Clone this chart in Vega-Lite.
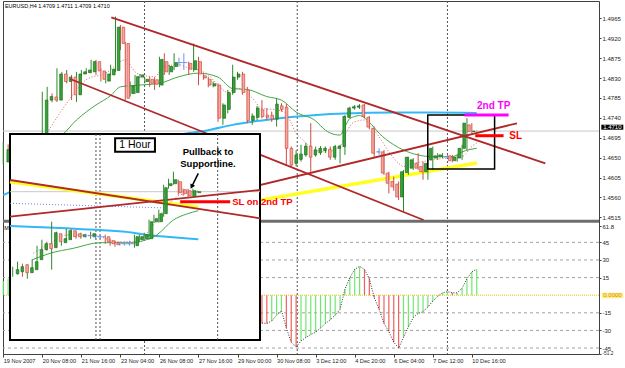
{
"$schema":"https://vega.github.io/schema/vega-lite/v6.json",
"width":596,"height":353,
"padding":{"left":3,"top":1,"right":26,"bottom":14},
"autosize":{"type":"none"},
"background":"white",
"config":{"view":{"stroke":"#404040","strokeWidth":1},"font":"Liberation Sans","axis":{"labelFont":"Liberation Sans"}},
"datasets":{
"candles":[
{"i":0,"o":1.4640,"h":1.4685,"l":1.4635,"c":1.4668},
{"i":1,"o":1.4675,"h":1.4680,"l":1.4650,"c":1.4656},
{"i":2,"o":1.4656,"h":1.4668,"l":1.4630,"c":1.4640},
{"i":3,"o":1.4640,"h":1.4662,"l":1.4628,"c":1.4655},
{"i":4,"o":1.4655,"h":1.4672,"l":1.4645,"c":1.4668},
{"i":5,"o":1.4668,"h":1.4675,"l":1.4650,"c":1.4658},
{"i":6,"o":1.4658,"h":1.4690,"l":1.4652,"c":1.4684},
{"i":7,"o":1.4684,"h":1.4695,"l":1.4670,"c":1.4690},
{"i":8,"o":1.4690,"h":1.4799,"l":1.4685,"c":1.4780},
{"i":9,"o":1.4780,"h":1.4810,"l":1.4773,"c":1.4788},
{"i":10,"o":1.4787,"h":1.4795,"l":1.4775,"c":1.4780},
{"i":11,"o":1.4780,"h":1.4852,"l":1.4776,"c":1.4839},
{"i":12,"o":1.4839,"h":1.4844,"l":1.4809,"c":1.4822},
{"i":13,"o":1.4822,"h":1.4848,"l":1.4818,"c":1.4832},
{"i":14,"o":1.4832,"h":1.4837,"l":1.4780,"c":1.4792},
{"i":15,"o":1.4792,"h":1.4844,"l":1.4776,"c":1.4839},
{"i":16,"o":1.4839,"h":1.4848,"l":1.4835,"c":1.4844},
{"i":17,"o":1.4842,"h":1.4852,"l":1.4839,"c":1.4848},
{"i":18,"o":1.4844,"h":1.4871,"l":1.4841,"c":1.4867},
{"i":19,"o":1.4867,"h":1.4871,"l":1.4837,"c":1.4846},
{"i":20,"o":1.4846,"h":1.4852,"l":1.4822,"c":1.4827},
{"i":21,"o":1.4823,"h":1.4844,"l":1.4818,"c":1.4839},
{"i":22,"o":1.4837,"h":1.4860,"l":1.4835,"c":1.4850},
{"i":23,"o":1.4847,"h":1.4969,"l":1.4844,"c":1.4945},
{"i":24,"o":1.4945,"h":1.4950,"l":1.4893,"c":1.4908},
{"i":25,"o":1.4908,"h":1.4912,"l":1.4780,"c":1.4784},
{"i":26,"o":1.4795,"h":1.4822,"l":1.4788,"c":1.4812},
{"i":27,"o":1.4797,"h":1.4837,"l":1.4794,"c":1.4833},
{"i":28,"o":1.4832,"h":1.4839,"l":1.4830,"c":1.4837},
{"i":29,"o":1.4822,"h":1.4830,"l":1.4818,"c":1.4827},
{"i":30,"o":1.4827,"h":1.4833,"l":1.4810,"c":1.4818},
{"i":31,"o":1.4826,"h":1.4832,"l":1.4803,"c":1.4816},
{"i":32,"o":1.4814,"h":1.4878,"l":1.4809,"c":1.4872},
{"i":33,"o":1.4867,"h":1.4886,"l":1.4837,"c":1.4844},
{"i":34,"o":1.4844,"h":1.4860,"l":1.4837,"c":1.4856},
{"i":35,"o":1.4856,"h":1.4886,"l":1.4848,"c":1.4865},
{"i":36,"o":1.4865,"h":1.4876,"l":1.4856,"c":1.4865},
{"i":37,"o":1.4865,"h":1.4886,"l":1.4848,"c":1.4865},
{"i":38,"o":1.4863,"h":1.4867,"l":1.4837,"c":1.4850},
{"i":39,"o":1.4849,"h":1.4908,"l":1.4844,"c":1.4869},
{"i":40,"o":1.4867,"h":1.4878,"l":1.4814,"c":1.4839},
{"i":41,"o":1.4835,"h":1.4841,"l":1.4826,"c":1.4830},
{"i":42,"o":1.4827,"h":1.4833,"l":1.4809,"c":1.4814},
{"i":43,"o":1.4812,"h":1.4822,"l":1.4809,"c":1.4817},
{"i":44,"o":1.4814,"h":1.4818,"l":1.4731,"c":1.4739},
{"i":45,"o":1.4739,"h":1.4773,"l":1.4724,"c":1.4769},
{"i":46,"o":1.4759,"h":1.4803,"l":1.4750,"c":1.4797},
{"i":47,"o":1.4797,"h":1.4860,"l":1.4792,"c":1.4832},
{"i":48,"o":1.4832,"h":1.4844,"l":1.4826,"c":1.4839},
{"i":49,"o":1.4839,"h":1.4844,"l":1.4792,"c":1.4797},
{"i":50,"o":1.4803,"h":1.4810,"l":1.4728,"c":1.4734},
{"i":51,"o":1.4734,"h":1.4750,"l":1.4724,"c":1.4744},
{"i":52,"o":1.4741,"h":1.4767,"l":1.4735,"c":1.4762},
{"i":53,"o":1.4758,"h":1.4780,"l":1.4739,"c":1.4743},
{"i":54,"o":1.4746,"h":1.4762,"l":1.4735,"c":1.4741},
{"i":55,"o":1.4746,"h":1.4754,"l":1.4731,"c":1.4737},
{"i":56,"o":1.4737,"h":1.4784,"l":1.4720,"c":1.4771},
{"i":57,"o":1.4767,"h":1.4773,"l":1.4754,"c":1.4759},
{"i":58,"o":1.4764,"h":1.4771,"l":1.4633,"c":1.4671},
{"i":59,"o":1.4671,"h":1.4675,"l":1.4630,"c":1.4633},
{"i":60,"o":1.4637,"h":1.4667,"l":1.4630,"c":1.4656},
{"i":61,"o":1.4646,"h":1.4679,"l":1.4641,"c":1.4658},
{"i":62,"o":1.4656,"h":1.4683,"l":1.4652,"c":1.4676},
{"i":63,"o":1.4676,"h":1.4728,"l":1.4618,"c":1.4651},
{"i":64,"o":1.4656,"h":1.4675,"l":1.4652,"c":1.4667},
{"i":65,"o":1.4661,"h":1.4676,"l":1.4656,"c":1.4671},
{"i":66,"o":1.4666,"h":1.4675,"l":1.4660,"c":1.4671},
{"i":67,"o":1.4669,"h":1.4675,"l":1.4645,"c":1.4651},
{"i":68,"o":1.4651,"h":1.4679,"l":1.4645,"c":1.4675},
{"i":69,"o":1.4671,"h":1.4679,"l":1.4637,"c":1.4676},
{"i":70,"o":1.4675,"h":1.4746,"l":1.4656,"c":1.4743},
{"i":71,"o":1.4741,"h":1.4765,"l":1.4739,"c":1.4762},
{"i":72,"o":1.4762,"h":1.4769,"l":1.4758,"c":1.4765},
{"i":73,"o":1.4764,"h":1.4771,"l":1.4760,"c":1.4767},
{"i":74,"o":1.4769,"h":1.4771,"l":1.4739,"c":1.4743},
{"i":75,"o":1.4741,"h":1.4744,"l":1.4714,"c":1.4719},
{"i":76,"o":1.4716,"h":1.4720,"l":1.4652,"c":1.4660},
{"i":77,"o":1.4663,"h":1.4671,"l":1.4656,"c":1.4663},
{"i":78,"o":1.4663,"h":1.4667,"l":1.4611,"c":1.4615},
{"i":79,"o":1.4615,"h":1.4618,"l":1.4569,"c":1.4592},
{"i":80,"o":1.4596,"h":1.4607,"l":1.4575,"c":1.4584},
{"i":81,"o":1.4590,"h":1.4596,"l":1.4554,"c":1.4561},
{"i":82,"o":1.4561,"h":1.4622,"l":1.4528,"c":1.4618},
{"i":83,"o":1.4616,"h":1.4652,"l":1.4611,"c":1.4651},
{"i":84,"o":1.4626,"h":1.4649,"l":1.4622,"c":1.4645},
{"i":85,"o":1.4637,"h":1.4660,"l":1.4622,"c":1.4626},
{"i":86,"o":1.4630,"h":1.4641,"l":1.4600,"c":1.4618},
{"i":87,"o":1.4618,"h":1.4645,"l":1.4600,"c":1.4637},
{"i":88,"o":1.4645,"h":1.4675,"l":1.4622,"c":1.4671},
{"i":89,"o":1.4649,"h":1.4660,"l":1.4645,"c":1.4654},
{"i":90,"o":1.4652,"h":1.4660,"l":1.4649,"c":1.4656},
{"i":91,"o":1.4652,"h":1.4656,"l":1.4649,"c":1.4652},
{"i":92,"o":1.4654,"h":1.4656,"l":1.4639,"c":1.4643},
{"i":93,"o":1.4643,"h":1.4656,"l":1.4641,"c":1.4651},
{"i":94,"o":1.4649,"h":1.4679,"l":1.4645,"c":1.4671},
{"i":95,"o":1.4671,"h":1.4739,"l":1.4667,"c":1.4728},
{"i":96,"o":1.4724,"h":1.4728,"l":1.4705,"c":1.4709},
{"i":97,"o":1.4709,"h":1.4711,"l":1.4709,"c":1.4710}
],
"ma":[
{"k":"s","i":10,"p":1.4690},{"k":"s","i":12,"p":1.4701},{"k":"s","i":15,"p":1.4735},{"k":"s","i":19,"p":1.4769},{"k":"s","i":22,"p":1.4790},{"k":"s","i":24,"p":1.4810},{"k":"s","i":28,"p":1.4814},{"k":"s","i":32,"p":1.4818},{"k":"s","i":36,"p":1.4833},{"k":"s","i":40,"p":1.4841},{"k":"s","i":44,"p":1.4832},{"k":"s","i":47,"p":1.4806},{"k":"s","i":50,"p":1.4804},{"k":"s","i":54,"p":1.4788},{"k":"s","i":57,"p":1.4780},{"k":"s","i":60,"p":1.4753},{"k":"s","i":64,"p":1.4733},{"k":"s","i":66,"p":1.4712},{"k":"s","i":68,"p":1.4702},{"k":"s","i":69,"p":1.4701},{"k":"s","i":70,"p":1.4720},{"k":"s","i":71,"p":1.4738},{"k":"s","i":73,"p":1.4745},{"k":"s","i":75,"p":1.4730},{"k":"s","i":77,"p":1.4705},{"k":"s","i":80,"p":1.4679},{"k":"s","i":82,"p":1.4667},{"k":"s","i":85,"p":1.4656},{"k":"s","i":88,"p":1.4652},{"k":"s","i":92,"p":1.4652},{"k":"s","i":94,"p":1.4663},{"k":"s","i":97,"p":1.4671},
{"k":"f","i":9,"p":1.4706},{"k":"f","i":13,"p":1.4773},{"k":"f","i":17,"p":1.4826},{"k":"f","i":21,"p":1.4841},{"k":"f","i":25,"p":1.4871},{"k":"f","i":27,"p":1.4844},{"k":"f","i":29,"p":1.4835},{"k":"f","i":31,"p":1.4833},{"k":"f","i":33,"p":1.4856},{"k":"f","i":36,"p":1.4860},{"k":"f","i":38,"p":1.4852},{"k":"f","i":40,"p":1.4848},{"k":"f","i":42,"p":1.4837},{"k":"f","i":44,"p":1.4814},{"k":"f","i":46,"p":1.4798},{"k":"f","i":48,"p":1.4807},{"k":"f","i":51,"p":1.4785},{"k":"f","i":53,"p":1.4761},{"k":"f","i":56,"p":1.4758},{"k":"f","i":58,"p":1.4750},{"k":"f","i":59,"p":1.4728},{"k":"f","i":60,"p":1.4705},{"k":"f","i":61,"p":1.4694},{"k":"f","i":64,"p":1.4667},{"k":"f","i":66,"p":1.4663},{"k":"f","i":69,"p":1.4675},{"k":"f","i":70,"p":1.4701},{"k":"f","i":72,"p":1.4731},{"k":"f","i":74,"p":1.4735},{"k":"f","i":75,"p":1.4724},{"k":"f","i":77,"p":1.4697},{"k":"f","i":79,"p":1.4663},{"k":"f","i":81,"p":1.4637},{"k":"f","i":82,"p":1.4630},{"k":"f","i":84,"p":1.4637},{"k":"f","i":86,"p":1.4641},{"k":"f","i":88,"p":1.4645},{"k":"f","i":91,"p":1.4649},{"k":"f","i":94,"p":1.4652},{"k":"f","i":96,"p":1.4675},{"k":"f","i":97,"p":1.4683},
{"k":"c","i":0,"p":1.4565},{"k":"c","i":10,"p":1.4615},{"k":"c","i":20,"p":1.4655},{"k":"c","i":28,"p":1.4682},{"k":"c","i":36,"p":1.4702},{"k":"c","i":42,"p":1.4712},{"k":"c","i":47,"p":1.4724},{"k":"c","i":53,"p":1.4734},{"k":"c","i":59,"p":1.4742},{"k":"c","i":70,"p":1.4750},{"k":"c","i":80,"p":1.4752},{"k":"c","i":88,"p":1.4752},{"k":"c","i":97,"p":1.4751}
],
"seg":[
{"k":"t","i":22.13,"p":1.49673,"i2":111.05,"p2":1.46371},
{"k":"t","i":13.73,"p":1.48278,"i2":86.11,"p2":1.45089},
{"k":"t","i":48.56,"p":1.45772,"i2":105.24,"p2":1.47276},
{"k":"y","i":48.56,"p":1.45462,"i2":97.05,"p2":1.46378},
{"k":"m","i":94.51,"p":1.47463,"i2":103.53,"p2":1.47463},
{"k":"s","i":96.70,"p":1.46995,"i2":102.50,"p2":1.46995}
],
"box":[{"i":86.97,"i2":100.66,"p":1.46242,"p2":1.47463}],
"sep":[{"i":28.95},{"i":60.23},{"i":91.0}],
"bid":[{"p":1.4710}],
"divider":[{"p":1.4506}],
"mtxt":[
{"k":"title","i":0.35,"p":1.49928,"t":"EURUSD,H4  1.4709 1.4711 1.4709 1.4710"},
{"k":"tp","i":97.05,"p":1.47667,"t":"2nd TP"},
{"k":"sl","i":103.67,"p":1.46995,"t":"SL"}
],
"tag":[{"i":122.53,"i2":127.03,"p":1.47131,"p2":1.47244,"ic":124.78,"pc":1.47188,"t":"1.4710"}],
"osc":[
{"i":0,"v":12,"t":"u"},{"i":1,"v":14,"t":"u"},
{"i":53,"v":-23.8,"t":"d"},{"i":54,"v":-24,"t":"d"},{"i":55,"v":-22,"t":"u"},{"i":56,"v":-17,"t":"u"},{"i":57,"v":-13,"t":"u"},{"i":58,"v":-28,"t":"d"},{"i":59,"v":-40,"t":"d"},{"i":60,"v":-44,"t":"d"},{"i":61,"v":-39,"t":"u"},{"i":62,"v":-36,"t":"u"},{"i":63,"v":-33.5,"t":"u"},{"i":64,"v":-31.5,"t":"u"},{"i":65,"v":-28,"t":"u"},{"i":66,"v":-24,"t":"u"},{"i":67,"v":-21,"t":"u"},{"i":68,"v":-17,"t":"u"},{"i":69,"v":-12,"t":"u"},{"i":70,"v":5,"t":"u"},{"i":71,"v":15,"t":"u"},{"i":72,"v":22,"t":"u"},{"i":73,"v":24.5,"t":"u"},{"i":74,"v":22,"t":"d"},{"i":75,"v":14,"t":"d"},{"i":76,"v":-2,"t":"d"},{"i":77,"v":-12,"t":"d"},{"i":78,"v":-24,"t":"d"},{"i":79,"v":-31,"t":"d"},{"i":80,"v":-40,"t":"d"},{"i":81,"v":-45,"t":"d"},{"i":82,"v":-36,"t":"u"},{"i":83,"v":-27,"t":"u"},{"i":84,"v":-19,"t":"u"},{"i":85,"v":-15.5,"t":"u"},{"i":86,"v":-14,"t":"u"},{"i":87,"v":-10,"t":"u"},{"i":88,"v":-5,"t":"u"},{"i":89,"v":-1,"t":"u"},{"i":90,"v":2,"t":"u"},{"i":91,"v":3,"t":"u"},{"i":92,"v":2,"t":"d"},{"i":93,"v":2,"t":"u"},{"i":94,"v":6,"t":"u"},{"i":95,"v":14,"t":"u"},{"i":96,"v":20,"t":"u"},{"i":97,"v":22,"t":"u"}
],
"ogrid":[{"v":45},{"v":30},{"v":15},{"v":-15},{"v":-30},{"v":-45}],
"ozero":[{"v":0}],
"otag":[{"i":122.61,"i2":127.03,"v":-2.64,"v2":2.13,"ic":124.82,"vc":-0.25,"t":"0.0000"}],
"olbl":[{"i":0.2,"v":57.6,"t":"M"}],
"ibox":[{"h":-0.554,"h2":50.78,"q":1.45617,"q2":1.47677}],
"ivl":[{"h":17.10,"q":1.45617,"q2":1.47677},{"h":17.93,"q":1.45617,"q2":1.47677},{"h":42.09,"q":1.45617,"q2":1.47677}],
"iseg":[
{"k":"g","h":-0.554,"q":1.4710,"h2":50.78,"q2":1.4710},
{"k":"b","h":-0.554,"q":1.46984,"h2":31.62,"q2":1.46937},
{"k":"y","h":-0.554,"q":1.47200,"h2":38.11,"q2":1.46944},
{"k":"r","h":-0.554,"q":1.47217,"h2":50.78,"q2":1.46834},
{"k":"r","h":-0.554,"q":1.46850,"h2":50.78,"q2":1.47117},
{"k":"s","h":34.39,"q":1.47000,"h2":44.66,"q2":1.47000},
{"k":"a","h":38.11,"q":1.47284,"h2":36.76,"q2":1.47150}
],
"iline":[
{"k":"c","h":-0.554,"q":1.46757},{"k":"c","h":11.09,"q":1.46734},{"k":"c","h":17.93,"q":1.46717},{"k":"c","h":24.76,"q":1.4669},{"k":"c","h":27.52,"q":1.46667},{"k":"c","h":31.62,"q":1.4665},{"k":"c","h":38.11,"q":1.46624},
{"k":"s","h":3.90,"q":1.46417},{"k":"s","h":7.66,"q":1.46484},{"k":"s","h":12.45,"q":1.46534},{"k":"s","h":17.93,"q":1.4659},{"k":"s","h":24.76,"q":1.4659},{"k":"s","h":26.82,"q":1.4661},{"k":"s","h":29.57,"q":1.46667},{"k":"s","h":32.98,"q":1.46817},{"k":"s","h":35.73,"q":1.46877},{"k":"s","h":38.11,"q":1.4691},
{"k":"f","h":4.23,"q":1.46484},{"k":"f","h":7.66,"q":1.46584},{"k":"f","h":11.09,"q":1.46667},{"k":"f","h":14.5,"q":1.46667},{"k":"f","h":17.93,"q":1.4665},{"k":"f","h":21.36,"q":1.466},{"k":"f","h":24.76,"q":1.466},{"k":"f","h":27.52,"q":1.46684},{"k":"f","h":29.57,"q":1.46817},{"k":"f","h":31.62,"q":1.4695},{"k":"f","h":34.35,"q":1.47067},{"k":"f","h":38.11,"q":1.471}
],
"icand":[
{"h":0,"o":1.4628,"hi":1.4635,"l":1.4625,"c":1.4632},
{"h":1,"o":1.4630,"hi":1.4640,"l":1.4627,"c":1.4635},
{"h":2,"o":1.4637,"hi":1.4638,"l":1.4625,"c":1.4629},
{"h":3,"o":1.4629,"hi":1.4637,"l":1.4623,"c":1.4634},
{"h":4,"o":1.4632,"hi":1.4642,"l":1.4630,"c":1.4640},
{"h":5,"o":1.4642,"hi":1.4656,"l":1.4640,"c":1.4652},
{"h":6,"o":1.4652,"hi":1.4662,"l":1.4648,"c":1.4658},
{"h":7,"o":1.4658,"hi":1.4660,"l":1.4651,"c":1.4653},
{"h":8,"o":1.4654,"hi":1.4680,"l":1.4632,"c":1.4669},
{"h":9,"o":1.4668,"hi":1.4670,"l":1.4655,"c":1.4660},
{"h":10,"o":1.4659,"hi":1.4667,"l":1.4656,"c":1.4663},
{"h":11,"o":1.4662,"hi":1.4673,"l":1.4660,"c":1.4671},
{"h":12,"o":1.4671,"hi":1.4673,"l":1.4662,"c":1.4665},
{"h":13,"o":1.4668,"hi":1.4670,"l":1.4663,"c":1.4665},
{"h":14,"o":1.4665,"hi":1.4669,"l":1.4663,"c":1.4667},
{"h":15,"o":1.4666,"hi":1.4668,"l":1.4664,"c":1.4666},
{"h":16,"o":1.4665,"hi":1.4670,"l":1.4663,"c":1.4668},
{"h":17,"o":1.4665,"hi":1.4668,"l":1.4662,"c":1.4665},
{"h":18,"o":1.4665,"hi":1.4667,"l":1.4663,"c":1.4665},
{"h":19,"o":1.4665,"hi":1.4667,"l":1.4658,"c":1.4660},
{"h":20,"o":1.4661,"hi":1.4663,"l":1.4656,"c":1.4658},
{"h":21,"o":1.4659,"hi":1.4661,"l":1.4655,"c":1.4657},
{"h":22,"o":1.4658,"hi":1.4660,"l":1.4656,"c":1.4658},
{"h":23,"o":1.4658,"hi":1.4660,"l":1.4656,"c":1.4658},
{"h":24,"o":1.4658,"hi":1.4661,"l":1.4656,"c":1.4658},
{"h":25,"o":1.4656,"hi":1.4667,"l":1.4654,"c":1.4665},
{"h":26,"o":1.4662,"hi":1.4667,"l":1.4660,"c":1.4665},
{"h":27,"o":1.4663,"hi":1.4669,"l":1.4661,"c":1.4667},
{"h":28,"o":1.4663,"hi":1.4682,"l":1.4662,"c":1.4680},
{"h":29,"o":1.4680,"hi":1.4687,"l":1.4679,"c":1.4683},
{"h":30,"o":1.4680,"hi":1.4692,"l":1.4679,"c":1.4688},
{"h":31,"o":1.4688,"hi":1.4717,"l":1.4685,"c":1.4714},
{"h":32,"o":1.4716,"hi":1.4723,"l":1.4713,"c":1.4718},
{"h":33,"o":1.4718,"hi":1.4730,"l":1.4717,"c":1.4722},
{"h":34,"o":1.4720,"hi":1.4722,"l":1.4707,"c":1.4709},
{"h":35,"o":1.4712,"hi":1.4713,"l":1.4706,"c":1.4708},
{"h":36,"o":1.4711,"hi":1.4713,"l":1.4704,"c":1.4706},
{"h":37,"o":1.4706,"hi":1.4713,"l":1.4704,"c":1.4711},
{"h":38,"o":1.4709,"hi":1.4711,"l":1.4709,"c":1.4710}
],
"itxt":[
{"k":"sl","h":45.06,"q":1.4700,"t":"SL on 2nd TP"},
{"k":"pb","h":40.10,"q":1.47494,"t":"Pullback to"},
{"k":"pb","h":40.10,"q":1.47374,"t":"Supportline."}
],
"ihour":[{"h":21.03,"h2":29.21,"q":1.47500,"q2":1.47634,"hc":25.12,"qc":1.47567,"t":"1 Hour"}]
},
"layer":[
{"data":{"name":"sep"},"mark":{"type":"rule","color":"#505050","strokeDash":[2,2],"strokeWidth":1},
 "encoding":{"x":{"field":"i","type":"quantitative","scale":{"domain":[-0.05,122.05],"nice":false,"zero":false},"axis":null}}},
{"data":{"name":"bid"},"mark":{"type":"rule","color":"#C8C8C8","strokeWidth":1},
 "encoding":{"y":{"field":"p","type":"quantitative","scale":{"domain":[1.420586,1.500414],"nice":false,"zero":false},"axis":null}}},
{"data":{"name":"divider"},"mark":{"type":"rule","color":"#6E6E6E","strokeWidth":3},
 "encoding":{"y":{"field":"p","type":"quantitative","scale":{"domain":[1.420586,1.500414],"nice":false,"zero":false},"axis":null}}},
{"data":{"name":"seg"},"transform":[{"filter":"datum.k == 'y'"}],"mark":{"type":"rule","color":"#FFFF22","strokeWidth":3.5},
 "encoding":{"x":{"field":"i","type":"quantitative","scale":{"domain":[-0.05,122.05],"nice":false,"zero":false},"axis":null},"x2":{"field":"i2"},
  "y":{"field":"p","type":"quantitative","scale":{"domain":[1.420586,1.500414],"nice":false,"zero":false},"axis":null},"y2":{"field":"p2"}}},
{"data":{"name":"ma"},"transform":[{"filter":"datum.k == 'c'"}],"mark":{"type":"line","color":"#33B8F5","strokeWidth":2,"interpolate":"monotone"},
 "encoding":{"x":{"field":"i","type":"quantitative","scale":{"domain":[-0.05,122.05],"nice":false,"zero":false},"axis":null},
  "y":{"field":"p","type":"quantitative","scale":{"domain":[1.420586,1.500414],"nice":false,"zero":false},"axis":null}}},
{"data":{"name":"ma"},"transform":[{"filter":"datum.k == 's'"}],"mark":{"type":"line","color":"#44A844","strokeWidth":1,"interpolate":"monotone"},
 "encoding":{"x":{"field":"i","type":"quantitative","scale":{"domain":[-0.05,122.05],"nice":false,"zero":false},"axis":null},
  "y":{"field":"p","type":"quantitative","scale":{"domain":[1.420586,1.500414],"nice":false,"zero":false},"axis":null}}},
{"data":{"name":"ma"},"transform":[{"filter":"datum.k == 'f'"}],"mark":{"type":"line","color":"#D0685A","strokeWidth":1,"strokeDash":[1,2],"interpolate":"monotone"},
 "encoding":{"x":{"field":"i","type":"quantitative","scale":{"domain":[-0.05,122.05],"nice":false,"zero":false},"axis":null},
  "y":{"field":"p","type":"quantitative","scale":{"domain":[1.420586,1.500414],"nice":false,"zero":false},"axis":null}}},
{"data":{"name":"candles"},"mark":{"type":"rule","strokeWidth":1},
 "encoding":{"x":{"field":"i","type":"quantitative","scale":{"domain":[-0.05,122.05],"nice":false,"zero":false},
   "axis":{"orient":"bottom","values":[0,8,16,24,32,40,48,56,64,72,80,88,96],"labelExpr":"['19 Nov 2007','20 Nov 08:00','21 Nov 16:00','23 Nov 04:00','26 Nov 08:00','27 Nov 16:00','29 Nov 00:00','30 Nov 08:00','3 Dec 12:00','4 Dec 20:00','6 Dec 04:00','7 Dec 12:00','10 Dec 16:00'][round(datum.value/8)]","title":null,"grid":false,"domain":false,"tickSize":3,"tickColor":"#404040","labelAlign":"left","labelPadding":1.5,"labelFontSize":5.6,"labelFlush":false,"labelOverlap":false,"labelColor":"#222222"}},
  "y":{"field":"l","type":"quantitative","scale":{"domain":[1.420586,1.500414],"nice":false,"zero":false},
   "axis":{"orient":"right","values":[1.4965,1.4920,1.4875,1.4830,1.4785,1.4740,1.4695,1.4650,1.4605,1.4560,1.4515],"format":".4f","title":null,"grid":false,"domain":false,"tickSize":2,"tickColor":"#404040","labelPadding":1,"labelFontSize":6,"labelOverlap":false,"labelColor":"#222222"}},
  "y2":{"field":"h"},
  "color":{"condition":[{"test":"datum.c > datum.o","value":"#2A8A2A"},{"test":"datum.c < datum.o","value":"#D04A40"}],"value":"#7090F0"}}},
{"data":{"name":"candles"},"mark":{"type":"bar","size":2.6,"strokeWidth":0.7},
 "encoding":{"x":{"field":"i","type":"quantitative","scale":{"domain":[-0.05,122.05],"nice":false,"zero":false},"axis":null},
  "y":{"field":"o","type":"quantitative","scale":{"domain":[1.420586,1.500414],"nice":false,"zero":false},"axis":null},"y2":{"field":"c"},
  "fill":{"condition":[{"test":"datum.c > datum.o","value":"#35A535"},{"test":"datum.c < datum.o","value":"#F5A8A0"}],"value":"#7090F0"},
  "stroke":{"condition":[{"test":"datum.c > datum.o","value":"#1E6B1E"},{"test":"datum.c < datum.o","value":"#D04A40"}],"value":"#7090F0"}}},
{"data":{"name":"candles"},"transform":[{"filter":"datum.o == datum.c"}],"mark":{"type":"tick","orient":"horizontal","size":3.5,"thickness":1,"color":"#7090F0"},
 "encoding":{"x":{"field":"i","type":"quantitative","scale":{"domain":[-0.05,122.05],"nice":false,"zero":false},"axis":null},
  "y":{"field":"o","type":"quantitative","scale":{"domain":[1.420586,1.500414],"nice":false,"zero":false},"axis":null}}},
{"data":{"name":"seg"},"transform":[{"filter":"datum.k == 't'"}],"mark":{"type":"rule","color":"#B02828","strokeWidth":1.8},
 "encoding":{"x":{"field":"i","type":"quantitative","scale":{"domain":[-0.05,122.05],"nice":false,"zero":false},"axis":null},"x2":{"field":"i2"},
  "y":{"field":"p","type":"quantitative","scale":{"domain":[1.420586,1.500414],"nice":false,"zero":false},"axis":null},"y2":{"field":"p2"}}},
{"data":{"name":"box"},"mark":{"type":"rect","fill":"transparent","stroke":"#000000","strokeWidth":1.5},
 "encoding":{"x":{"field":"i","type":"quantitative","scale":{"domain":[-0.05,122.05],"nice":false,"zero":false},"axis":null},"x2":{"field":"i2"},
  "y":{"field":"p","type":"quantitative","scale":{"domain":[1.420586,1.500414],"nice":false,"zero":false},"axis":null},"y2":{"field":"p2"}}},
{"data":{"name":"seg"},"transform":[{"filter":"datum.k == 'm'"}],"mark":{"type":"rule","color":"#FF00FF","strokeWidth":3},
 "encoding":{"x":{"field":"i","type":"quantitative","scale":{"domain":[-0.05,122.05],"nice":false,"zero":false},"axis":null},"x2":{"field":"i2"},
  "y":{"field":"p","type":"quantitative","scale":{"domain":[1.420586,1.500414],"nice":false,"zero":false},"axis":null},"y2":{"field":"p2"}}},
{"data":{"name":"seg"},"transform":[{"filter":"datum.k == 's'"}],"mark":{"type":"rule","color":"#FF0000","strokeWidth":3},
 "encoding":{"x":{"field":"i","type":"quantitative","scale":{"domain":[-0.05,122.05],"nice":false,"zero":false},"axis":null},"x2":{"field":"i2"},
  "y":{"field":"p","type":"quantitative","scale":{"domain":[1.420586,1.500414],"nice":false,"zero":false},"axis":null},"y2":{"field":"p2"}}},
{"data":{"name":"mtxt"},"transform":[{"filter":"datum.k == 'title'"}],"mark":{"type":"text","align":"left","baseline":"middle","fontSize":5.5,"color":"#000000"},
 "encoding":{"x":{"field":"i","type":"quantitative","scale":{"domain":[-0.05,122.05],"nice":false,"zero":false},"axis":null},
  "y":{"field":"p","type":"quantitative","scale":{"domain":[1.420586,1.500414],"nice":false,"zero":false},"axis":null},"text":{"field":"t"}}},
{"data":{"name":"mtxt"},"transform":[{"filter":"datum.k == 'tp'"}],"mark":{"type":"text","align":"left","baseline":"middle","fontSize":10,"fontWeight":"bold","color":"#FF00FF"},
 "encoding":{"x":{"field":"i","type":"quantitative","scale":{"domain":[-0.05,122.05],"nice":false,"zero":false},"axis":null},
  "y":{"field":"p","type":"quantitative","scale":{"domain":[1.420586,1.500414],"nice":false,"zero":false},"axis":null},"text":{"field":"t"}}},
{"data":{"name":"mtxt"},"transform":[{"filter":"datum.k == 'sl'"}],"mark":{"type":"text","align":"left","baseline":"middle","fontSize":10,"fontWeight":"bold","color":"#FF0000"},
 "encoding":{"x":{"field":"i","type":"quantitative","scale":{"domain":[-0.05,122.05],"nice":false,"zero":false},"axis":null},
  "y":{"field":"p","type":"quantitative","scale":{"domain":[1.420586,1.500414],"nice":false,"zero":false},"axis":null},"text":{"field":"t"}}},
{"data":{"name":"tag"},"mark":{"type":"rect","fill":"#000000"},
 "encoding":{"x":{"field":"i","type":"quantitative","scale":{"domain":[-0.05,122.05],"nice":false,"zero":false},"axis":null},"x2":{"field":"i2"},
  "y":{"field":"p","type":"quantitative","scale":{"domain":[1.420586,1.500414],"nice":false,"zero":false},"axis":null},"y2":{"field":"p2"}}},
{"data":{"name":"tag"},"mark":{"type":"text","align":"center","baseline":"middle","fontSize":6,"color":"#FFFFFF"},
 "encoding":{"x":{"field":"ic","type":"quantitative","scale":{"domain":[-0.05,122.05],"nice":false,"zero":false},"axis":null},
  "y":{"field":"pc","type":"quantitative","scale":{"domain":[1.420586,1.500414],"nice":false,"zero":false},"axis":null},"text":{"field":"t"}}},
{"data":{"name":"ogrid"},"mark":{"type":"rule","color":"#A0A0A0","strokeDash":[3,3],"strokeWidth":1},
 "encoding":{"y":{"field":"v","type":"quantitative","scale":{"domain":[-50.07,250.5],"nice":false,"zero":false},"axis":null}}},
{"data":{"name":"ozero"},"mark":{"type":"rule","color":"#F0C000","strokeDash":[1,1],"strokeWidth":1},
 "encoding":{"y":{"field":"v","type":"quantitative","scale":{"domain":[-50.07,250.5],"nice":false,"zero":false},"axis":null}}},
{"data":{"name":"osc"},"mark":{"type":"rule","strokeWidth":1.2},
 "encoding":{"x":{"field":"i","type":"quantitative","scale":{"domain":[-0.05,122.05],"nice":false,"zero":false},"axis":null},
  "y":{"field":"v","type":"quantitative","scale":{"domain":[-50.07,250.5],"nice":false,"zero":false},
   "axis":{"orient":"right","values":[58.9,45,30,15,-15,-30,-45,-50.0],"labelExpr":"datum.value > 50 ? '61.8' : (datum.value < -46 ? '-51.2' : '' + datum.value)","title":null,"grid":false,"domain":false,"tickSize":2,"tickColor":"#404040","labelPadding":1,"labelFontSize":{"condition":{"test":"datum.value < -46","value":4.8},"value":6},"labelOverlap":false,"labelColor":"#222222"}},
  "y2":{"datum":0},
  "color":{"condition":{"test":"datum.t == 'u'","value":"#6FE86F"},"value":"#F06060"}}},
{"data":{"name":"osc"},"transform":[{"filter":"datum.i >= 53"}],"mark":{"type":"line","color":"#333333","strokeWidth":1,"strokeDash":[1,1.5]},
 "encoding":{"x":{"field":"i","type":"quantitative","scale":{"domain":[-0.05,122.05],"nice":false,"zero":false},"axis":null},
  "y":{"field":"v","type":"quantitative","scale":{"domain":[-50.07,250.5],"nice":false,"zero":false},"axis":null}}},
{"data":{"name":"otag"},"mark":{"type":"rect","fill":"#FFEE88"},
 "encoding":{"x":{"field":"i","type":"quantitative","scale":{"domain":[-0.05,122.05],"nice":false,"zero":false},"axis":null},"x2":{"field":"i2"},
  "y":{"field":"v","type":"quantitative","scale":{"domain":[-50.07,250.5],"nice":false,"zero":false},"axis":null},"y2":{"field":"v2"}}},
{"data":{"name":"otag"},"mark":{"type":"text","align":"center","baseline":"middle","fontSize":6,"color":"#D08A00"},
 "encoding":{"x":{"field":"ic","type":"quantitative","scale":{"domain":[-0.05,122.05],"nice":false,"zero":false},"axis":null},
  "y":{"field":"vc","type":"quantitative","scale":{"domain":[-50.07,250.5],"nice":false,"zero":false},"axis":null},"text":{"field":"t"}}},
{"data":{"name":"olbl"},"mark":{"type":"text","align":"left","baseline":"middle","fontSize":5.5,"color":"#000000"},
 "encoding":{"x":{"field":"i","type":"quantitative","scale":{"domain":[-0.05,122.05],"nice":false,"zero":false},"axis":null},
  "y":{"field":"v","type":"quantitative","scale":{"domain":[-50.07,250.5],"nice":false,"zero":false},"axis":null},"text":{"field":"t"}}},
{"data":{"name":"ibox"},"mark":{"type":"rect","fill":"#FFFFFF","stroke":"#000000","strokeWidth":2},
 "encoding":{"x":{"field":"h","type":"quantitative","scale":{"domain":[-1.992,120.39],"nice":false,"zero":false},"axis":null},"x2":{"field":"h2"},
  "y":{"field":"q","type":"quantitative","scale":{"domain":[1.45477,1.49007],"nice":false,"zero":false},"axis":null},"y2":{"field":"q2"}}},
{"data":{"name":"ivl"},"mark":{"type":"rule","color":"#505050","strokeDash":[2,2],"strokeWidth":1},
 "encoding":{"x":{"field":"h","type":"quantitative","scale":{"domain":[-1.992,120.39],"nice":false,"zero":false},"axis":null},
  "y":{"field":"q","type":"quantitative","scale":{"domain":[1.45477,1.49007],"nice":false,"zero":false},"axis":null},"y2":{"field":"q2"}}},
{"data":{"name":"iseg"},"transform":[{"filter":"datum.k == 'g'"}],"mark":{"type":"rule","color":"#C8C8C8","strokeWidth":1},
 "encoding":{"x":{"field":"h","type":"quantitative","scale":{"domain":[-1.992,120.39],"nice":false,"zero":false},"axis":null},"x2":{"field":"h2"},
  "y":{"field":"q","type":"quantitative","scale":{"domain":[1.45477,1.49007],"nice":false,"zero":false},"axis":null},"y2":{"field":"q2"}}},
{"data":{"name":"iseg"},"transform":[{"filter":"datum.k == 'b'"}],"mark":{"type":"rule","color":"#6A86E8","strokeWidth":1,"strokeDash":[1,2]},
 "encoding":{"x":{"field":"h","type":"quantitative","scale":{"domain":[-1.992,120.39],"nice":false,"zero":false},"axis":null},"x2":{"field":"h2"},
  "y":{"field":"q","type":"quantitative","scale":{"domain":[1.45477,1.49007],"nice":false,"zero":false},"axis":null},"y2":{"field":"q2"}}},
{"data":{"name":"iseg"},"transform":[{"filter":"datum.k == 'y'"}],"mark":{"type":"rule","color":"#FFFF22","strokeWidth":3.5},
 "encoding":{"x":{"field":"h","type":"quantitative","scale":{"domain":[-1.992,120.39],"nice":false,"zero":false},"axis":null},"x2":{"field":"h2"},
  "y":{"field":"q","type":"quantitative","scale":{"domain":[1.45477,1.49007],"nice":false,"zero":false},"axis":null},"y2":{"field":"q2"}}},
{"data":{"name":"iseg"},"transform":[{"filter":"datum.k == 'r'"}],"mark":{"type":"rule","color":"#B02828","strokeWidth":1.8},
 "encoding":{"x":{"field":"h","type":"quantitative","scale":{"domain":[-1.992,120.39],"nice":false,"zero":false},"axis":null},"x2":{"field":"h2"},
  "y":{"field":"q","type":"quantitative","scale":{"domain":[1.45477,1.49007],"nice":false,"zero":false},"axis":null},"y2":{"field":"q2"}}},
{"data":{"name":"iline"},"transform":[{"filter":"datum.k == 'c'"}],"mark":{"type":"line","color":"#33B8F5","strokeWidth":2,"interpolate":"monotone"},
 "encoding":{"x":{"field":"h","type":"quantitative","scale":{"domain":[-1.992,120.39],"nice":false,"zero":false},"axis":null},
  "y":{"field":"q","type":"quantitative","scale":{"domain":[1.45477,1.49007],"nice":false,"zero":false},"axis":null}}},
{"data":{"name":"iline"},"transform":[{"filter":"datum.k == 's'"}],"mark":{"type":"line","color":"#44A844","strokeWidth":1,"interpolate":"monotone"},
 "encoding":{"x":{"field":"h","type":"quantitative","scale":{"domain":[-1.992,120.39],"nice":false,"zero":false},"axis":null},
  "y":{"field":"q","type":"quantitative","scale":{"domain":[1.45477,1.49007],"nice":false,"zero":false},"axis":null}}},
{"data":{"name":"iline"},"transform":[{"filter":"datum.k == 'f'"}],"mark":{"type":"line","color":"#D0685A","strokeWidth":1,"strokeDash":[1,2],"interpolate":"monotone"},
 "encoding":{"x":{"field":"h","type":"quantitative","scale":{"domain":[-1.992,120.39],"nice":false,"zero":false},"axis":null},
  "y":{"field":"q","type":"quantitative","scale":{"domain":[1.45477,1.49007],"nice":false,"zero":false},"axis":null}}},
{"data":{"name":"icand"},"mark":{"type":"rule","strokeWidth":1},
 "encoding":{"x":{"field":"h","type":"quantitative","scale":{"domain":[-1.992,120.39],"nice":false,"zero":false},"axis":null},
  "y":{"field":"l","type":"quantitative","scale":{"domain":[1.45477,1.49007],"nice":false,"zero":false},"axis":null},"y2":{"field":"hi"},
  "color":{"condition":[{"test":"datum.c > datum.o","value":"#2A8A2A"},{"test":"datum.c < datum.o","value":"#D04A40"}],"value":"#7090F0"}}},
{"data":{"name":"icand"},"mark":{"type":"bar","size":2.6,"strokeWidth":0.7},
 "encoding":{"x":{"field":"h","type":"quantitative","scale":{"domain":[-1.992,120.39],"nice":false,"zero":false},"axis":null},
  "y":{"field":"o","type":"quantitative","scale":{"domain":[1.45477,1.49007],"nice":false,"zero":false},"axis":null},"y2":{"field":"c"},
  "fill":{"condition":[{"test":"datum.c > datum.o","value":"#35A535"},{"test":"datum.c < datum.o","value":"#F5A8A0"}],"value":"#7090F0"},
  "stroke":{"condition":[{"test":"datum.c > datum.o","value":"#1E6B1E"},{"test":"datum.c < datum.o","value":"#D04A40"}],"value":"#7090F0"}}},
{"data":{"name":"icand"},"transform":[{"filter":"datum.o == datum.c"}],"mark":{"type":"tick","orient":"horizontal","size":3.5,"thickness":1,"color":"#7090F0"},
 "encoding":{"x":{"field":"h","type":"quantitative","scale":{"domain":[-1.992,120.39],"nice":false,"zero":false},"axis":null},
  "y":{"field":"o","type":"quantitative","scale":{"domain":[1.45477,1.49007],"nice":false,"zero":false},"axis":null}}},
{"data":{"name":"iseg"},"transform":[{"filter":"datum.k == 's'"}],"mark":{"type":"rule","color":"#FF0000","strokeWidth":3},
 "encoding":{"x":{"field":"h","type":"quantitative","scale":{"domain":[-1.992,120.39],"nice":false,"zero":false},"axis":null},"x2":{"field":"h2"},
  "y":{"field":"q","type":"quantitative","scale":{"domain":[1.45477,1.49007],"nice":false,"zero":false},"axis":null},"y2":{"field":"q2"}}},
{"data":{"name":"iseg"},"transform":[{"filter":"datum.k == 'a'"}],"mark":{"type":"rule","color":"#000000","strokeWidth":1.5},
 "encoding":{"x":{"field":"h","type":"quantitative","scale":{"domain":[-1.992,120.39],"nice":false,"zero":false},"axis":null},"x2":{"field":"h2"},
  "y":{"field":"q","type":"quantitative","scale":{"domain":[1.45477,1.49007],"nice":false,"zero":false},"axis":null},"y2":{"field":"q2"}}},
{"data":{"name":"iseg"},"transform":[{"filter":"datum.k == 'a'"}],"mark":{"type":"point","shape":"triangle-up","filled":true,"color":"#000000","size":28,"angle":206,"opacity":1},
 "encoding":{"x":{"field":"h2","type":"quantitative","scale":{"domain":[-1.992,120.39],"nice":false,"zero":false},"axis":null},
  "y":{"field":"q2","type":"quantitative","scale":{"domain":[1.45477,1.49007],"nice":false,"zero":false},"axis":null}}},
{"data":{"name":"itxt"},"transform":[{"filter":"datum.k == 'sl'"}],"mark":{"type":"text","align":"left","baseline":"middle","fontSize":9.5,"fontWeight":"bold","color":"#FF0000"},
 "encoding":{"x":{"field":"h","type":"quantitative","scale":{"domain":[-1.992,120.39],"nice":false,"zero":false},"axis":null},
  "y":{"field":"q","type":"quantitative","scale":{"domain":[1.45477,1.49007],"nice":false,"zero":false},"axis":null},"text":{"field":"t"}}},
{"data":{"name":"itxt"},"transform":[{"filter":"datum.k == 'pb'"}],"mark":{"type":"text","align":"center","baseline":"middle","fontSize":9.5,"fontWeight":"bold","color":"#000000"},
 "encoding":{"x":{"field":"h","type":"quantitative","scale":{"domain":[-1.992,120.39],"nice":false,"zero":false},"axis":null},
  "y":{"field":"q","type":"quantitative","scale":{"domain":[1.45477,1.49007],"nice":false,"zero":false},"axis":null},"text":{"field":"t"}}},
{"data":{"name":"ihour"},"mark":{"type":"rect","fill":"#FFFFFF","stroke":"#000000","strokeWidth":2},
 "encoding":{"x":{"field":"h","type":"quantitative","scale":{"domain":[-1.992,120.39],"nice":false,"zero":false},"axis":null},"x2":{"field":"h2"},
  "y":{"field":"q","type":"quantitative","scale":{"domain":[1.45477,1.49007],"nice":false,"zero":false},"axis":null},"y2":{"field":"q2"}}},
{"data":{"name":"ihour"},"mark":{"type":"text","align":"center","baseline":"middle","fontSize":10.5,"color":"#000000"},
 "encoding":{"x":{"field":"hc","type":"quantitative","scale":{"domain":[-1.992,120.39],"nice":false,"zero":false},"axis":null},
  "y":{"field":"qc","type":"quantitative","scale":{"domain":[1.45477,1.49007],"nice":false,"zero":false},"axis":null},"text":{"field":"t"}}}
],
"resolve":{"scale":{"x":"independent","y":"independent"},"axis":{"x":"independent","y":"independent"}}
}
